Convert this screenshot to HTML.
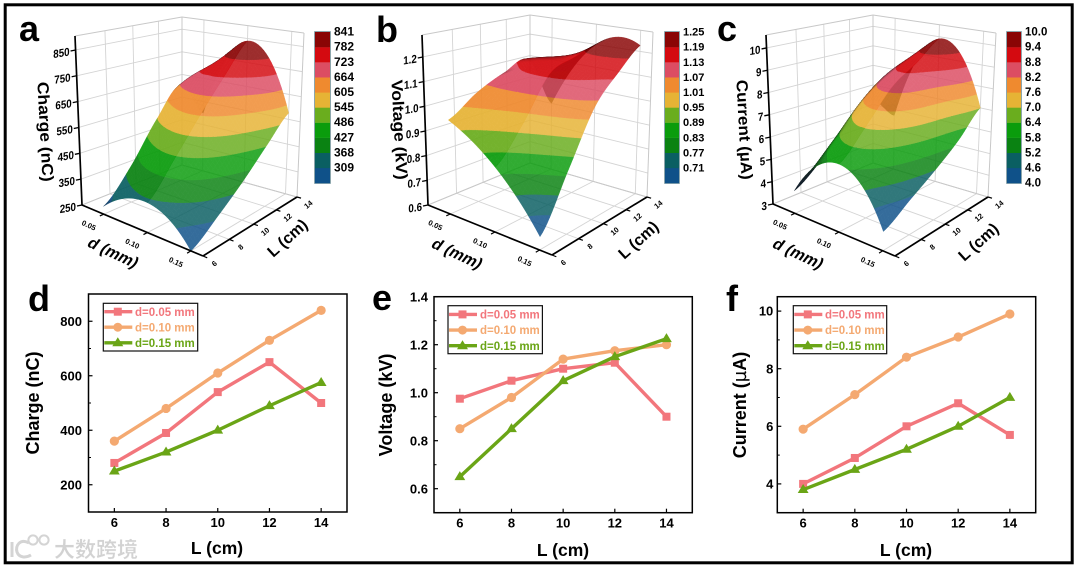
<!DOCTYPE html>
<html lang="en">
<head>
<meta charset="utf-8">
<title>Charge, voltage and current versus L and d</title>
<style>
html,body{margin:0;padding:0;background:#fff;width:1080px;height:569px;overflow:hidden}
svg{display:block;filter:blur(.35px);font-family:"Liberation Sans","Noto Sans CJK SC",sans-serif}
text{font-weight:bold;fill:#000}
.letter{font-size:36px}
.t2{font-size:18px;text-anchor:middle}
.x2{font-size:17.5px;text-anchor:middle}
.t3{font-size:16px;text-anchor:middle}
.lg{font-size:11.5px}
</style>
</head>
<body>
<svg id="fig" width="1080" height="569" viewBox="0 0 1080 569" xmlns="http://www.w3.org/2000/svg">
<rect x="0" y="0" width="1080" height="569" fill="#fff"/>
<g id="layer-3d"></g>
<g id="layer-2d"></g>

<rect x="5.2" y="4.8" width="1067" height="558" fill="none" stroke="#000" stroke-width="3"/>

<text class="letter" x="19" y="41">a</text>
<text class="letter" x="376" y="42">b</text>
<text class="letter" x="717" y="41">c</text>
<text class="letter" x="28" y="311">d</text>
<text class="letter" x="372" y="310">e</text>
<text class="letter" x="726" y="311">f</text>

<text class="t3" textLength="100" lengthAdjust="spacingAndGlyphs" transform="translate(40,132) rotate(87)">Charge (nC)</text>
<text class="t3" transform="translate(110,257) rotate(25) skewX(-12)">d (mm)</text>
<text class="t3" transform="translate(291,242) rotate(-42)">L (cm)</text>
<text class="t3" textLength="100" lengthAdjust="spacingAndGlyphs" transform="translate(394,130) rotate(87)">Voltage (kV)</text>
<text class="t3" transform="translate(454,258) rotate(25) skewX(-12)">d (mm)</text>
<text class="t3" transform="translate(642,244) rotate(-42)">L (cm)</text>
<text class="t3" textLength="100" lengthAdjust="spacingAndGlyphs" transform="translate(739,130) rotate(87)">Current (µA)</text>
<text class="t3" transform="translate(795,258) rotate(25) skewX(-12)">d (mm)</text>
<text class="t3" transform="translate(982,246) rotate(-42)">L (cm)</text>

<text class="t2" transform="translate(39,403) rotate(-90)">Charge (nC)</text>
<text class="x2" x="217" y="554">L (cm)</text>
<text class="t2" transform="translate(392,405) rotate(-90)">Voltage (kV)</text>
<text class="x2" x="563" y="556">L (cm)</text>
<text class="t2" transform="translate(746,405) rotate(-90)">Current (<tspan font-weight="normal" font-family="'DejaVu Sans',sans-serif">µ</tspan>A)</text>
<text class="x2" x="906" y="556">L (cm)</text>

<g transform="translate(103.3,303.3)">
  <rect width="94.4" height="47.7" fill="#fff" stroke="#111" stroke-width="1.2"/>
  <g><path d="M1 8.4H29" stroke="#f2767c" stroke-width="3.4"/><rect x="10.5" y="4.4" width="8" height="8" fill="#f2767c"/><text class="lg" x="31.7" y="12.6" style="fill:#f2767c">d=0.05 mm</text></g>
  <g><path d="M1 23.9H29" stroke="#f4a971" stroke-width="3.4"/><circle cx="14.5" cy="23.9" r="4.5" fill="#f4a971"/><text class="lg" x="31.7" y="28" style="fill:#f4a971">d=0.10 mm</text></g>
  <g><path d="M1 39.5H29" stroke="#6aa516" stroke-width="3.4"/><path d="M14.5 34L20 43H9Z" fill="#6aa516"/><text class="lg" x="31.7" y="43.6" style="fill:#6aa516">d=0.15 mm</text></g>
</g>
<g transform="translate(448,305.7)">
  <rect width="94.4" height="48" fill="#fff" stroke="#111" stroke-width="1.2"/>
  <g><path d="M1 8.7H29" stroke="#f2767c" stroke-width="3.4"/><rect x="10.5" y="4.7" width="8" height="8" fill="#f2767c"/><text class="lg" x="32" y="12.9" style="fill:#f2767c">d=0.05 mm</text></g>
  <g><path d="M1 24.4H29" stroke="#f4a971" stroke-width="3.4"/><circle cx="14.5" cy="24.4" r="4.5" fill="#f4a971"/><text class="lg" x="32" y="28.5" style="fill:#f4a971">d=0.10 mm</text></g>
  <g><path d="M1 40H29" stroke="#6aa516" stroke-width="3.4"/><path d="M14.5 34.5L20 43.5H9Z" fill="#6aa516"/><text class="lg" x="32" y="44.1" style="fill:#6aa516">d=0.15 mm</text></g>
</g>
<g transform="translate(793.3,305.7)">
  <rect width="93.4" height="48" fill="#fff" stroke="#111" stroke-width="1.2"/>
  <g><path d="M1 8.7H29" stroke="#f2767c" stroke-width="3.4"/><rect x="10.5" y="4.7" width="8" height="8" fill="#f2767c"/><text class="lg" x="31.7" y="12.9" style="fill:#f2767c">d=0.05 mm</text></g>
  <g><path d="M1 24.4H29" stroke="#f4a971" stroke-width="3.4"/><circle cx="14.5" cy="24.4" r="4.5" fill="#f4a971"/><text class="lg" x="31.7" y="28.5" style="fill:#f4a971">d=0.10 mm</text></g>
  <g><path d="M1 40H29" stroke="#6aa516" stroke-width="3.4"/><path d="M14.5 34.5L20 43.5H9Z" fill="#6aa516"/><text class="lg" x="31.7" y="44.1" style="fill:#6aa516">d=0.15 mm</text></g>
</g>

<g opacity=".95">
  <g fill="none" stroke="#d2d2d2" stroke-width="3">
    <path d="M12 542V557"/>
    <path d="M29 543C20 538 15 546 17 552C19 558 26 558 31 555"/>
    <circle cx="33" cy="540" r="4.6" stroke-width="2"/>
    <circle cx="44" cy="540" r="4.6" stroke-width="2"/>
  </g>
  <text x="54" y="557" font-size="21" style="fill:#d0d0d0;stroke:#fff;stroke-width:.3px;font-family:'Noto Sans CJK SC',sans-serif">大数跨境</text>
</g>

<script>
// Shared categories
const lengths = [6, 8, 10, 12, 14];
const gaps = [0.05, 0.10, 0.15];
const seriesColors = ['#f2767c', '#f4a971', '#6aa516'];

// Charge (nC) by gap
const chargeD05 = [280, 390, 540, 650, 500];
const chargeD10 = [360, 480, 610, 730, 840];
const chargeD15 = [250, 320, 400, 490, 575];
const chargeTicks = [200, 400, 600, 800];
const chargeMinorTicks = [300, 500, 700];
const chargeSurfaceTicks = [250, 350, 450, 550, 650, 750, 850];
const chargeLevels = [250, 309, 368, 427, 486, 545, 605, 664, 723, 782, 841];

// Voltage (kV) by gap
const voltageD05 = [0.975, 1.05, 1.10, 1.125, 0.90];
const voltageD10 = [0.85, 0.98, 1.14, 1.175, 1.20];
const voltageD15 = [0.65, 0.85, 1.05, 1.15, 1.225];
const voltageTicks = [0.6, 0.8, 1.0, 1.2, 1.4];
const voltageMinorTicks = [0.7, 0.9, 1.1, 1.3];
const voltageSurfaceTicks = [0.6, 0.7, 0.8, 0.9, 1.0, 1.1, 1.2];
const voltageLevels = [0.65, 0.71, 0.77, 0.83, 0.89, 0.95, 1.01, 1.07, 1.13, 1.19, 1.25];

// Current (uA) by gap
const currentD05 = [4.0, 4.9, 6.0, 6.8, 5.7];
const currentD10 = [5.9, 7.1, 8.4, 9.1, 9.9];
const currentD15 = [3.8, 4.5, 5.2, 6.0, 7.0];
const currentTicks = [4, 6, 8, 10];
const currentMinorTicks = [5, 7, 9];
const currentSurfaceTicks = [3, 4, 5, 6, 7, 8, 9, 10];
const currentLevels = [4.0, 4.6, 5.2, 5.8, 6.4, 7.0, 7.6, 8.2, 8.8, 9.4, 10.0];

// Colour bands, low to high
const bandColors = ['#0f5189', '#0a5f62', '#0a8212', '#0a9c0c', '#6aad1e', '#e6b335', '#ef8a2f', '#dc4d63', '#d40a10', '#8a0505'];

const NS = 'http://www.w3.org/2000/svg';

function add(parent, tag, name, attrs) {
  const el = document.createElementNS(NS, tag);
  
  
  for (const k in attrs) el.setAttribute(k, attrs[k]);
  parent.appendChild(el);
  return el;
}
function addText(parent, name, str, attrs) {
  const el = add(parent, 'text', name, attrs);
  el.textContent = str;
  return el;
}
function lerpPt(p, q, t) { return [p[0] + (q[0] - p[0]) * t, p[1] + (q[1] - p[1]) * t]; }
function pts(list) { return list.map(function (p) { return p[0].toFixed(2) + ',' + p[1].toFixed(2); }).join(' '); }

/* ---------- 3D surface panels ---------- */
function catmull(arr, s) {
  const n = arr.length - 1;
  const i = Math.min(Math.floor(s), n - 1);
  const f = s - i;
  const p0 = arr[Math.max(i - 1, 0)], p1 = arr[i], p2 = arr[i + 1], p3 = arr[Math.min(i + 2, n)];
  return 0.5 * (2 * p1 + (p2 - p0) * f + (2 * p0 - 5 * p1 + 4 * p2 - p3) * f * f + (3 * p1 - p0 - 3 * p2 + p3) * f * f * f);
}
function quadratic(a, b, c, t) {
  return a * (t - 1) * (t - 2) / 2 - b * t * (t - 2) + c * t * (t - 1) / 2;
}
function signedArea(q) {
  let s = 0;
  for (let i = 0; i < q.length; i++) {
    const a = q[i], b = q[(i + 1) % q.length];
    s += a[0] * b[1] - b[0] * a[1];
  }
  return s / 2;
}
// Keep the part of a polygon (points are [x, y, z]) on one side of a z level
function clipByLevel(poly, level, keepAbove) {
  const out = [];
  for (let i = 0; i < poly.length; i++) {
    const a = poly[i], b = poly[(i + 1) % poly.length];
    const ina = keepAbove ? a[2] >= level : a[2] < level;
    const inb = keepAbove ? b[2] >= level : b[2] < level;
    if (ina) out.push(a);
    if (ina !== inb) {
      const t = (level - a[2]) / (b[2] - a[2]);
      out.push([a[0] + (b[0] - a[0]) * t, a[1] + (b[1] - a[1]) * t, level]);
    }
  }
  return out;
}
function renderSurface(cfg) {
  const root = add(document.getElementById('layer-3d'), 'g', cfg.name + '-surface-panel', {});
  const zSpan = cfg.zmax - cfg.zmin;
  const uOf = function (d) { return 0.18 + 0.72 * (d - gaps[0]) / (gaps[2] - gaps[0]); };
  const vOf = function (L) {
    const t = (L - lengths[0]) / (lengths[4] - lengths[0]);
    return t + 0.16 * t * (1 - t);
  };
  const wOf = function (z) { return (z - cfg.zmin) / zSpan; };
  const project = function (u, v, w) {
    const f = lerpPt(lerpPt(cfg.A, cfg.B, u), lerpPt(cfg.D, cfg.C, u), v);
    const t = lerpPt(lerpPt(cfg.At, cfg.Bt, u), lerpPt(cfg.Dt, cfg.Ct, u), v);
    return lerpPt(f, t, w);
  };
  const segment = function (g, name, a, b, stroke, width) {
    add(g, 'line', name, { x1: a[0].toFixed(2), y1: a[1].toFixed(2), x2: b[0].toFixed(2), y2: b[1].toFixed(2), stroke: stroke, 'stroke-width': width });
  };

  // Walls and floor grid
  const gridG = add(root, 'g', cfg.name + '-gridlines', {});
  const gc = '#d4d4d4';
  cfg.zticks.forEach(function (z) {
    const w = wOf(z);
    segment(gridG, 'left-wall-gridline', project(0, 0, w), project(0, 1, w), gc, 0.9);
    segment(gridG, 'right-wall-gridline', project(0, 1, w), project(1, 1, w), gc, 0.9);
  });
  lengths.forEach(function (L) {
    const v = vOf(L);
    segment(gridG, 'left-wall-gridline', project(0, v, 0), project(0, v, 1), gc, 0.9);
    segment(gridG, 'floor-gridline', project(0, v, 0), project(1, v, 0), gc, 0.9);
  });
  gaps.forEach(function (d) {
    const u = uOf(d);
    segment(gridG, 'right-wall-gridline', project(u, 1, 0), project(u, 1, 1), gc, 0.9);
    segment(gridG, 'floor-gridline', project(u, 0, 0), project(u, 1, 0), gc, 0.9);
  });
  [[[0, 1, 0], [0, 1, 1]], [[1, 1, 0], [1, 1, 1]], [[0, 0, 1], [0, 1, 1]], [[0, 1, 1], [1, 1, 1]], [[0, 1, 0], [1, 1, 0]], [[0, 1, 0], [0, 0, 0]]].forEach(function (e) {
    segment(gridG, 'box-edge', project(e[0][0], e[0][1], e[0][2]), project(e[1][0], e[1][1], e[1][2]), '#c8c8c8', 1);
  });

  // Surface mesh interpolated from the three series
  const NU = 32, NV = 48;
  const zAt = function (i, j) {
    const s = j / NV * (lengths.length - 1);
    return quadratic(catmull(cfg.grid[0], s), catmull(cfg.grid[1], s), catmull(cfg.grid[2], s), i / NU * 2);
  };
  const Z = [], P = [], F = [];
  const du = (uOf(gaps[2]) - uOf(gaps[0])) / NU;
  for (let i = 0; i <= NU; i++) {
    Z.push([]); P.push([]); F.push([]);
    for (let j = 0; j <= NV; j++) {
      const z = zAt(i, j);
      const u = uOf(gaps[0]) + du * i;
      const v = vOf(lengths[0] + (lengths[4] - lengths[0]) * j / NV);
      Z[i].push(z);
      P[i].push(project(u, v, wOf(z)));
      F[i].push(project(u, v, 0));
    }
  }
  const shadeColor = function (hex, k) {
    const n = parseInt(hex.slice(1), 16);
    const r = Math.round(((n >> 16) & 255) * k), g = Math.round(((n >> 8) & 255) * k), b = Math.round((n & 255) * k);
    return 'rgb(' + r + ',' + g + ',' + b + ')';
  };
  const layers = [[0, NU / 2, 0.93, 'back'], [NU / 2, NU, 0.84, 'front']];
  layers.forEach(function (layer) {
    const g = add(root, 'g', cfg.name + '-surface-' + layer[3] + '-half', { opacity: layer[2] });
    for (let j = NV - 1; j >= 0; j--) {
      for (let i = layer[0]; i < layer[1]; i++) {
        const corners = [[i, j], [i + 1, j], [i + 1, j + 1], [i, j + 1]];
        const quad = corners.map(function (c) { return [P[c[0]][c[1]][0], P[c[0]][c[1]][1], Z[c[0]][c[1]]]; });
        const floor = corners.map(function (c) { return F[c[0]][c[1]]; });
        const ratio = signedArea(quad) / signedArea(floor);
        const k = Math.max(0.2, Math.min(1, 0.25 + 0.95 * ratio));
        bandColors.forEach(function (bandColor, b) {
          let poly = quad;
          if (b > 0) poly = clipByLevel(poly, cfg.levels[b], true);
          if (b < bandColors.length - 1 && poly.length) poly = clipByLevel(poly, cfg.levels[b + 1], false);
          if (poly.length < 3) return;
          const color = shadeColor(bandColor, k);
          add(g, 'polygon', cfg.name + '-surface-cell', {
            points: pts(poly), fill: color, stroke: color, 'stroke-width': 0.45
          });
        });
      }
    }
  });

  // Axes
  const axisG = add(root, 'g', cfg.name + '-axes', {});
  segment(axisG, 'z-axis-line', project(0, 0, 0), project(0, 0, 1), '#000', 1.7);
  segment(axisG, 'd-axis-line', project(0, 0, 0), project(1, 0, 0), '#000', 1.7);
  segment(axisG, 'l-axis-line', project(1, 0, 0), project(1, 1, 0), '#000', 1.7);
  cfg.zticks.forEach(function (z) {
    const p = project(0, 0, wOf(z));
    segment(axisG, 'z-axis-tick', p, [p[0] - 5, p[1] + 1], '#000', 1.3);
    addText(axisG, 'z-axis-tick-label', z.toFixed(cfg.zDigits), {
      'text-anchor': 'end', 'font-size': 11.5,
      transform: 'translate(' + (p[0] - 6).toFixed(1) + ',' + (p[1] + 5.5).toFixed(1) + ') skewY(-9) scale(.85,1)'
    });
  });
  gaps.forEach(function (d) {
    const u = uOf(d);
    const p = project(u, 0, 0);
    segment(axisG, 'd-axis-tick', p, project(u, -0.04, 0), '#000', 1.2);
    addText(axisG, 'd-axis-tick-label', d.toFixed(2), {
      'text-anchor': 'middle', 'font-size': 7.5,
      transform: 'translate(' + (p[0] - 16).toFixed(1) + ',' + (p[1] + 13.5).toFixed(1) + ') rotate(25)'
    });
  });
  lengths.forEach(function (L) {
    const v = vOf(L);
    const p = project(1, v, 0);
    segment(axisG, 'l-axis-tick', p, project(1.035, v, 0), '#000', 1.2);
    addText(axisG, 'l-axis-tick-label', String(L), {
      'text-anchor': 'middle', 'font-size': 7.5,
      transform: 'translate(' + (p[0] + 13).toFixed(1) + ',' + (p[1] + 9.5).toFixed(1) + ') rotate(-40)'
    });
  });

  // Colour bar
  const bar = add(root, 'g', cfg.name + '-colorbar', {});
  const bandH = 15.1, top = 32;
  add(bar, 'rect', 'colorbar-outline', { x: cfg.barX - 0.4, y: top - 0.4, width: cfg.barW + 0.8, height: bandH * 10 + 0.8, fill: 'none', stroke: '#6f8f98', 'stroke-width': 0.8 });
  bandColors.forEach(function (c, i) {
    add(bar, 'rect', 'colorbar-band', { x: cfg.barX, y: (top + (9 - i) * bandH).toFixed(2), width: cfg.barW, height: bandH + 0.2, fill: c });
  });
  cfg.levels.forEach(function (l, i) {
    if (i === 0 && !cfg.showBottom) return;
    addText(bar, 'colorbar-label', l.toFixed(cfg.levelDigits), {
      x: cfg.barX + cfg.barW + 4, y: (top + (10 - i) * bandH + 3.6).toFixed(1), 'font-size': cfg.levelSize
    });
  });
}

renderSurface({
  name: 'charge', A: [82, 205], B: [203, 256], C: [297, 197], D: [182, 165],
  At: [75, 36], Bt: [210, 71], Ct: [304, 33], Dt: [182, 17],
  zmin: 250, zmax: 904, grid: [chargeD05, chargeD10, chargeD15],
  zticks: chargeSurfaceTicks, zDigits: 0, levels: chargeLevels, levelDigits: 0, levelSize: 12,
  barX: 315, barW: 15, showBottom: false
});
renderSurface({
  name: 'voltage', A: [428, 205], B: [552, 255], C: [647, 197], D: [530, 163],
  At: [422, 35], Bt: [559, 70], Ct: [653, 32], Dt: [530, 15],
  zmin: 0.6, zmax: 1.289, grid: [voltageD05, voltageD10, voltageD15],
  zticks: voltageSurfaceTicks, zDigits: 1, levels: voltageLevels, levelDigits: 2, levelSize: 11,
  barX: 665, barW: 14, showBottom: false
});
renderSurface({
  name: 'current', A: [773, 204], B: [895, 256], C: [988, 197], D: [873, 163],
  At: [766, 35], Bt: [902, 71], Ct: [996, 33], Dt: [873, 15],
  zmin: 3, zmax: 10.58, grid: [currentD05, currentD10, currentD15],
  zticks: currentSurfaceTicks, zDigits: 0, levels: currentLevels, levelDigits: 1, levelSize: 11.5,
  barX: 1007, barW: 14, showBottom: true
});

/* ---------- 2D line panels ---------- */
function renderLines(cfg) {
  const g = add(document.getElementById('layer-2d'), 'g', cfg.name + '-line-panel', {});
  const xOf = function (v) { return cfg.x0 + (v - 5) / 10 * (cfg.x1 - cfg.x0); };
  const yOf = function (v) { return cfg.y1 - (v - cfg.vmin) / (cfg.vmax - cfg.vmin) * (cfg.y1 - cfg.y0); };
  add(g, 'rect', cfg.name + '-plot-frame', { x: cfg.x0, y: cfg.y0, width: cfg.x1 - cfg.x0, height: cfg.y1 - cfg.y0, fill: '#fff', stroke: '#000', 'stroke-width': 1.5 });
  lengths.forEach(function (L) {
    const x = xOf(L);
    add(g, 'line', 'x-axis-tick', { x1: x, x2: x, y1: cfg.y1, y2: cfg.y1 - 4, stroke: '#000', 'stroke-width': 1.2 });
    addText(g, 'x-axis-tick-label', String(L), { x: x, y: cfg.y1 + 15, 'text-anchor': 'middle', 'font-size': 13 });
  });
  cfg.ticks.forEach(function (t) {
    const y = yOf(t);
    add(g, 'line', 'y-axis-tick', { x1: cfg.x0, x2: cfg.x0 + 4, y1: y, y2: y, stroke: '#000', 'stroke-width': 1.2 });
    addText(g, 'y-axis-tick-label', t.toFixed(cfg.digits), { x: cfg.x0 - cfg.labelGap, y: y + 4.6, 'text-anchor': 'end', 'font-size': 13 });
  });
  cfg.minor.forEach(function (t) {
    const y = yOf(t);
    add(g, 'line', 'y-axis-minor-tick', { x1: cfg.x0, x2: cfg.x0 + 2.5, y1: y, y2: y, stroke: '#000', 'stroke-width': 1 });
  });
  cfg.series.forEach(function (values, si) {
    const color = seriesColors[si];
    const sg = add(g, 'g', cfg.name + '-series-d' + gaps[si].toFixed(2), {});
    const line = values.map(function (v, i) { return [xOf(lengths[i]), yOf(v)]; });
    add(sg, 'polyline', 'series-line', { points: pts(line), fill: 'none', stroke: color, 'stroke-width': 3.4, 'stroke-linejoin': 'round' });
    line.forEach(function (p) {
      if (si === 0) {
        add(sg, 'rect', 'series-point', { x: p[0] - 4, y: p[1] - 4, width: 8, height: 8, fill: color });
      } else if (si === 1) {
        add(sg, 'circle', 'series-point', { cx: p[0], cy: p[1], r: 4.6, fill: color });
      } else {
        add(sg, 'polygon', 'series-point', { points: pts([[p[0], p[1] - 5.6], [p[0] + 5.4, p[1] + 3.4], [p[0] - 5.4, p[1] + 3.4]]), fill: color });
      }
    });
  });
}

renderLines({
  name: 'charge', x0: 88.5, x1: 347, y0: 294, y1: 512, vmin: 100, vmax: 900, digits: 0, labelGap: 6.5,
  ticks: chargeTicks, minor: chargeMinorTicks, series: [chargeD05, chargeD10, chargeD15]
});
renderLines({
  name: 'voltage', x0: 434, x1: 692.3, y0: 296.7, y1: 512.7, vmin: 0.5, vmax: 1.4, digits: 1, labelGap: 6,
  ticks: voltageTicks, minor: voltageMinorTicks, series: [voltageD05, voltageD10, voltageD15]
});
renderLines({
  name: 'current', x0: 777.3, x1: 1035.7, y0: 296.7, y1: 512.7, vmin: 3, vmax: 10.5, digits: 0, labelGap: 4,
  ticks: currentTicks, minor: currentMinorTicks, series: [currentD05, currentD10, currentD15]
});
</script>
</svg>
</body>
</html>
